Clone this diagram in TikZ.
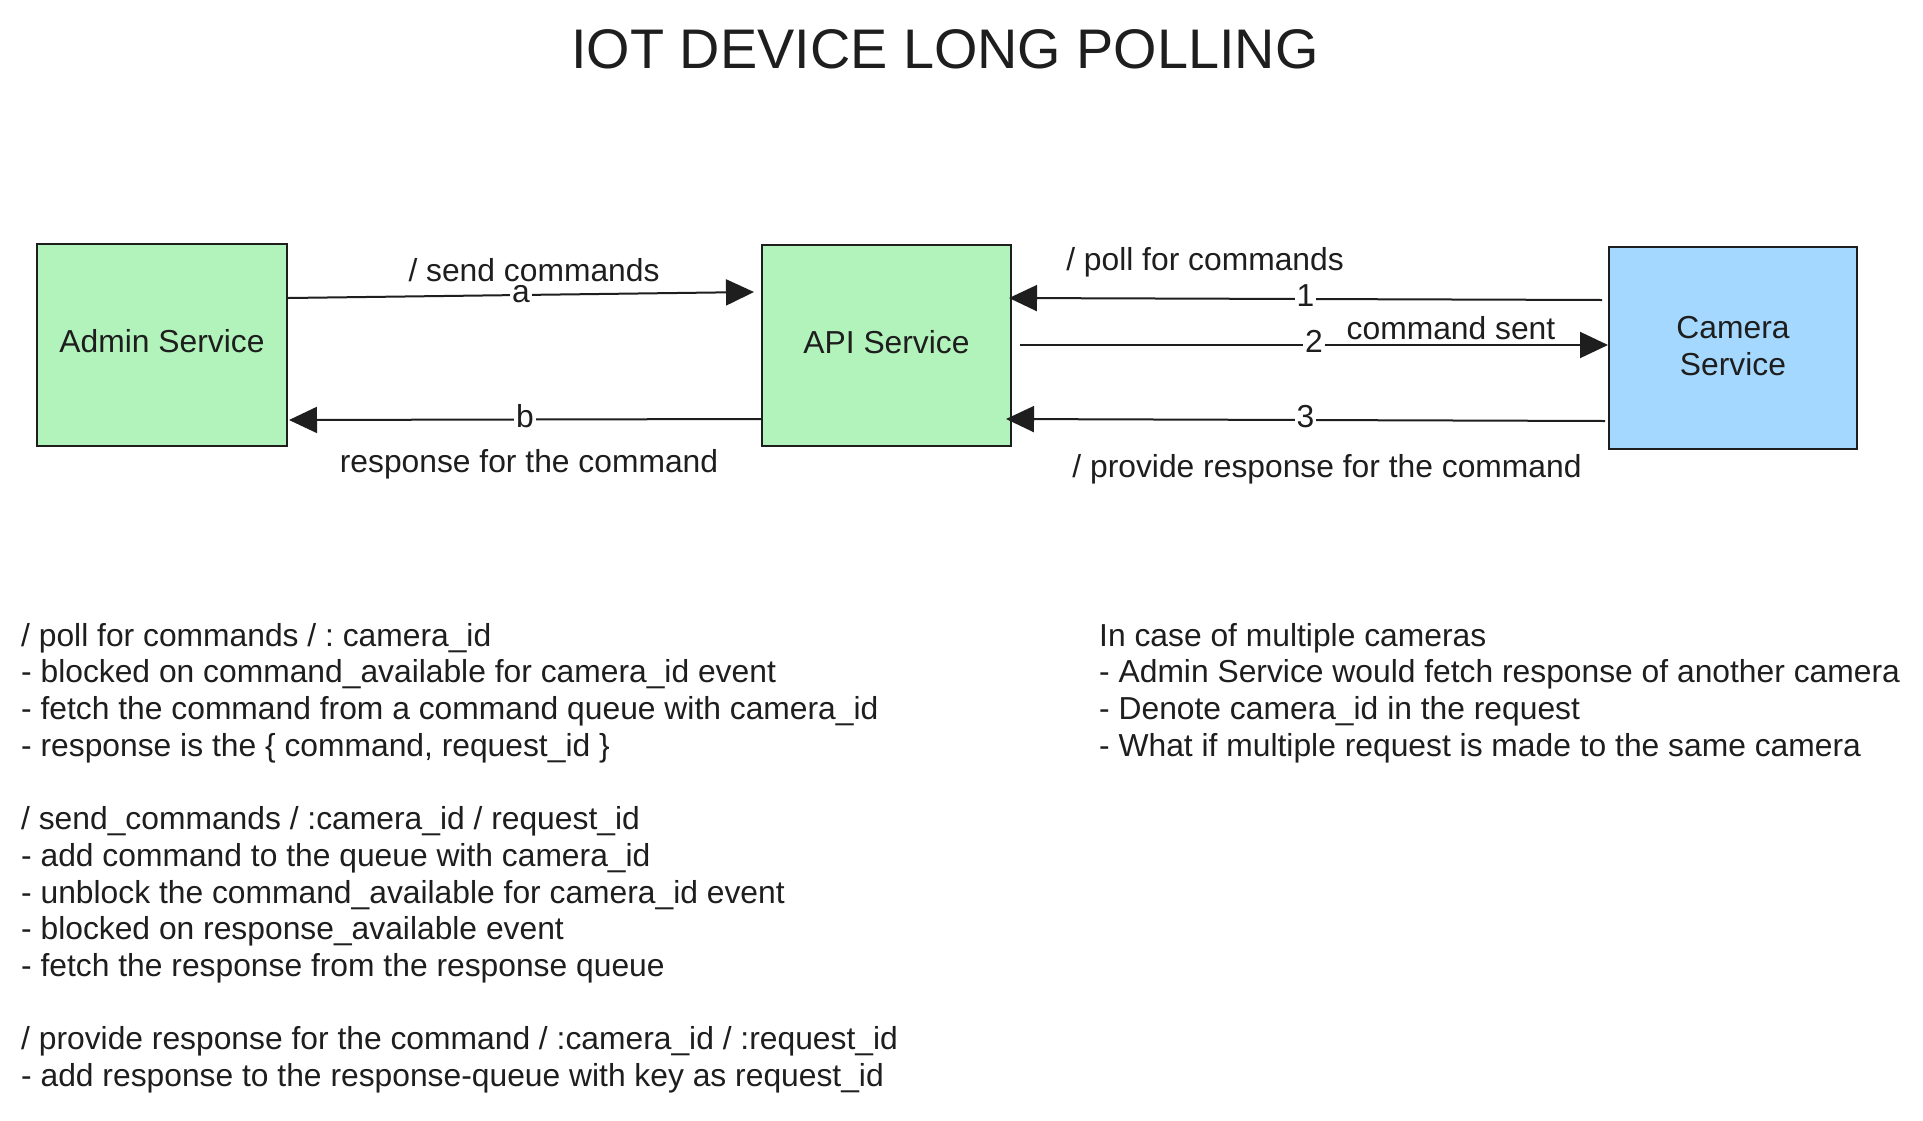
\documentclass[tikz,border=0pt]{standalone}
\usepackage{fontspec}
\setmainfont{Liberation Sans}
\usetikzlibrary{arrows.meta,calc}
\definecolor{ink}{HTML}{1E1E1E}
\definecolor{mint}{HTML}{B2F2BB}
\definecolor{sky}{HTML}{A5D8FF}
\newcommand{\bodyfont}{\fontsize{31.8}{36.7}\selectfont}
\frenchspacing
\begin{document}
\begin{tikzpicture}[x=1pt,y=-1pt,
  every node/.style={text=ink},
  svc/.style={draw=ink, line width=2pt, inner sep=0pt, font=\bodyfont, text height=23pt, text depth=8pt},
  conn/.style={draw=ink, line width=2pt, -{Triangle[length=28pt,width=26pt]}},
  tag/.style={fill=white, inner sep=2pt, font=\bodyfont, text height=17pt, text depth=2pt},
  lbl/.style={font=\bodyfont, anchor=base, inner sep=0pt},
  note/.style={font=\bodyfont, anchor=north west, align=left, inner sep=0pt}
]
\useasboundingbox[fill=white] (0,0) rectangle (1923,1120);

\node[anchor=base, inner sep=0pt, font=\fontsize{55.8}{60}\selectfont] (title) at (945,68) {IOT DEVICE LONG POLLING};

\node[svc, fill=mint, minimum width=250pt, minimum height=202pt] (admin) at (162,345) {Admin Service};
\node[svc, fill=mint, minimum width=249pt, minimum height=201pt] (api) at (886.5,345.5) {API Service};
\node[svc, fill=sky, minimum width=248pt, minimum height=202pt, align=center, text height=62pt, text depth=8pt] (cam) at (1733,348) {Camera\\Service};

\draw[conn] ($(admin.north east)+(0,55)$) -- node[tag] (ta) {a} ($(api.north west)+(-7,48)$);
\draw[conn] ($(api.north west)+(0,175)$) -- node[tag] (tb) {b} ($(admin.north east)+(1,177)$);
\draw[conn] ($(cam.north west)+(-6,54)$) -- node[tag] (t1) {1} ($(api.north east)+(-3,54)$);
\draw[conn] ($(api.north east)+(8,101)$) -- node[tag] (t2) {2} ($(cam.north west)+(0,99)$);
\draw[conn] ($(cam.north west)+(-3,175)$) -- node[tag] (t3) {3} ($(api.north east)+(-6,175)$);

\node[lbl] (sendlbl) at (534,281) {/ send commands};
\node[lbl] (resplbl) at (529,472) {response for the command};
\node[lbl] (polllbl) at (1205,270) {/ poll for commands};
\node[lbl] (sentlbl) at (1451,339) {command sent};
\node[lbl] (provlbl) at (1327,477) {/ provide response for the command};

\node[note] (notesleft) at (21,623) {/ poll for commands / : camera\_id\\
- blocked on command\_available for camera\_id event\\
- fetch the command from a command queue with camera\_id\\
- response is the \{ command, request\_id \}\\[36.7pt]
/ send\_commands / :camera\_id / request\_id\\
- add command to the queue with camera\_id\\
- unblock the command\_available for camera\_id event\\
- blocked on response\_available event\\
- fetch the response from the response queue\\[36.7pt]
/ provide response for the command / :camera\_id / :request\_id\\
- add response to the response-queue with key as request\_id};

\node[note] (notesright) at (1099,623) {In case of multiple cameras\\
- Admin Service would fetch response of another camera\\
- Denote camera\_id in the request\\
- What if multiple request is made to the same camera};
\end{tikzpicture}
\end{document}
